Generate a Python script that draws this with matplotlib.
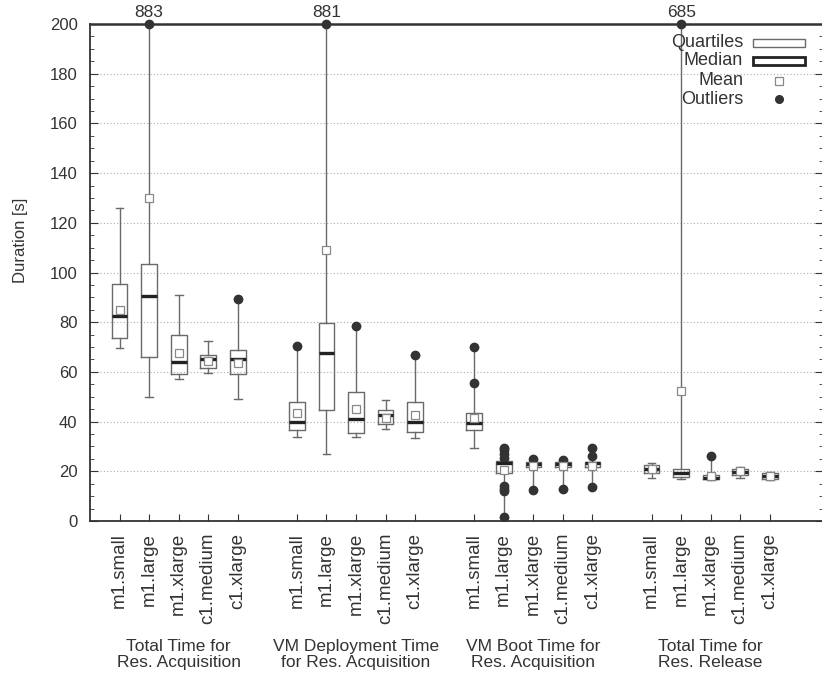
import matplotlib
matplotlib.use("Agg")
import matplotlib.pyplot as plt
from matplotlib.patches import Rectangle
from matplotlib.ticker import MultipleLocator

plt.rcParams['font.family'] = ['Liberation Sans', 'DejaVu Sans']

# instance types (same order in every group)
instances = ["m1.small", "m1.large", "m1.xlarge", "c1.medium", "c1.xlarge"]
groups = ["Total Time for\nRes. Acquisition",
          "VM Deployment Time\nfor Res. Acquisition",
          "VM Boot Time for\nRes. Acquisition",
          "Total Time for\nRes. Release"]

# per group: lists over the five instances
whislo = [[69.5, 50, 57, 59.5, 49],
          [34, 27, 34, 37, 33.5],
          [29.5, 1.5, 12.5, 13, 14],
          [17.5, 17, 16.5, 17.5, 16.5]]
q1 = [[73.5, 66, 59, 61.5, 59],
      [36.5, 44.5, 35.5, 39, 36],
      [36.5, 19.3, 21.7, 21.7, 21.8],
      [19.5, 17.8, 16.8, 18.5, 17]]
med = [[82.5, 90.5, 64, 65, 65],
       [40, 67.5, 41, 42.5, 40],
       [39.5, 23.2, 23, 23, 23.2],
       [21, 19.5, 17.5, 19.8, 18]]
q3 = [[95.5, 103.5, 75, 67, 69],
      [48, 79.5, 52, 44.5, 48],
      [43.5, 24, 23.6, 23.6, 23.8],
      [22.5, 20.8, 18.5, 20.8, 19.2]]
whishi = [[126, 883, 91, 72.5, 89.5],
          [70.5, 881, 78.5, 48.5, 67],
          [70, 29.5, 24.8, 24.5, 29.2],
          [23.2, 685, 26, 21.8, 19.8]]
means = [[85, 130, 67.5, 64.5, 63.5],
         [43.5, 109, 45, 41.5, 42.5],
         [41.5, 20.5, 22, 22, 22],
         [21, 52.5, 18, 20, 18]]
outliers = [[[], [883], [], [], [89.5]],
            [[70.5], [881], [78.5], [], [67]],
            [[55.5, 70], [1.5, 12, 13, 14, 25.5, 27, 28.5, 29.5], [12.3, 24.8], [12.8, 24.5], [13.8, 26, 29.2]],
            [[], [685], [26], [], []]]

ymax = 200
gray = "#6a6a6a"
dark = "#333333"

fig = plt.figure(figsize=(8.22, 6.79), dpi=100)
ax = fig.add_axes([90 / 822, 158 / 679, 733 / 822, 497 / 679])

stats = []
positions = []
for g in range(len(groups)):
    for i in range(len(instances)):
        stats.append(dict(whislo=whislo[g][i], q1=q1[g][i], med=med[g][i],
                          q3=q3[g][i], whishi=whishi[g][i], mean=means[g][i],
                          fliers=outliers[g][i], label=instances[i]))
        positions.append(g * 6 + i + 1)

ax.bxp(stats, positions=positions, widths=0.53, capwidths=0.26,
       showmeans=True, patch_artist=False,
       boxprops=dict(color=gray, linewidth=1.0),
       whiskerprops=dict(color=gray, linewidth=1.0),
       capprops=dict(color=gray, linewidth=1.0),
       medianprops=dict(color="#222222", linewidth=2.4),
       meanprops=dict(marker="s", markersize=5.5, markerfacecolor="white",
                      markeredgecolor="#888888", markeredgewidth=0.9),
       flierprops=dict(marker="o", markersize=6, markerfacecolor=dark,
                       markeredgecolor=dark, linestyle="none"))

# outliers beyond the y range: dot on the top border + value
for s, p in zip(stats, positions):
    big = [v for v in s["fliers"] if v > ymax]
    if big:
        ax.plot([p], [ymax], "o", color=dark, markersize=6, clip_on=False, zorder=5)
        ax.annotate(f"{max(big):g}", (p, ymax), xytext=(0, 3), textcoords="offset points",
                    ha="center", va="bottom", fontsize=12.5, color=dark)

ax.set_xlim(0, 24.8)
ax.set_ylim(0, ymax)
ax.yaxis.set_major_locator(MultipleLocator(20))
ax.yaxis.set_minor_locator(MultipleLocator(5))
ax.grid(axis="y", which="major", linestyle=(0, (1, 2)), color="#aaaaaa", linewidth=0.8)
ax.set_axisbelow(True)

ax.set_xticks(positions)
ax.set_xticklabels([s["label"] for s in stats], rotation=90, fontsize=13.5, color=dark)
ax.tick_params(axis="x", direction="in", length=5, pad=8.5, top=False, color=dark)
ax.tick_params(axis="y", which="major", direction="in", length=6, pad=9,
               labelsize=12, labelcolor=dark, right=True, color=dark)
ax.tick_params(axis="y", which="minor", direction="in", length=3, right=True, color=dark)
for sp in ["left", "bottom", "top"]:
    ax.spines[sp].set_color(dark)
    ax.spines[sp].set_linewidth(1.3)
ax.spines["top"].set_linewidth(1.8)
ax.spines["right"].set_visible(False)

fig.text(20 / 822, 1 - 240 / 679, "Duration [s]", rotation=90, ha="center", va="center",
         fontsize=12, color=dark)

for g, name in enumerate(groups):
    ax.text(g * 6 + 3, -0.238, name, transform=ax.get_xaxis_transform(),
            ha="center", va="top", fontsize=12.5, color=dark, linespacing=1.05)

# legend (gnuplot style, text right-aligned, sample on the right)
lx = 0.891
ax.text(lx, 0.962, "Quartiles", transform=ax.transAxes, ha="right", va="center", fontsize=13, color=dark)
ax.text(lx, 0.926, "Median", transform=ax.transAxes, ha="right", va="center", fontsize=13, color=dark)
ax.text(lx, 0.886, "Mean", transform=ax.transAxes, ha="right", va="center", fontsize=13, color=dark)
ax.text(lx, 0.849, "Outliers", transform=ax.transAxes, ha="right", va="center", fontsize=13, color=dark)
ax.add_patch(Rectangle((0.905, 0.954), 0.07, 0.016, transform=ax.transAxes,
                       fill=False, edgecolor=gray, linewidth=1.0, clip_on=False))
ax.add_patch(Rectangle((0.905, 0.918), 0.07, 0.016, transform=ax.transAxes,
                       fill=False, edgecolor="#222222", linewidth=2.0, clip_on=False))
ax.plot([0.94], [0.886], "s", transform=ax.transAxes, markersize=5.5, markerfacecolor="white",
        markeredgecolor="#888888", markeredgewidth=0.9, clip_on=False)
ax.plot([0.94], [0.849], "o", transform=ax.transAxes, markersize=5.5, color=dark, clip_on=False)

fig.savefig("out.png", dpi=100)
